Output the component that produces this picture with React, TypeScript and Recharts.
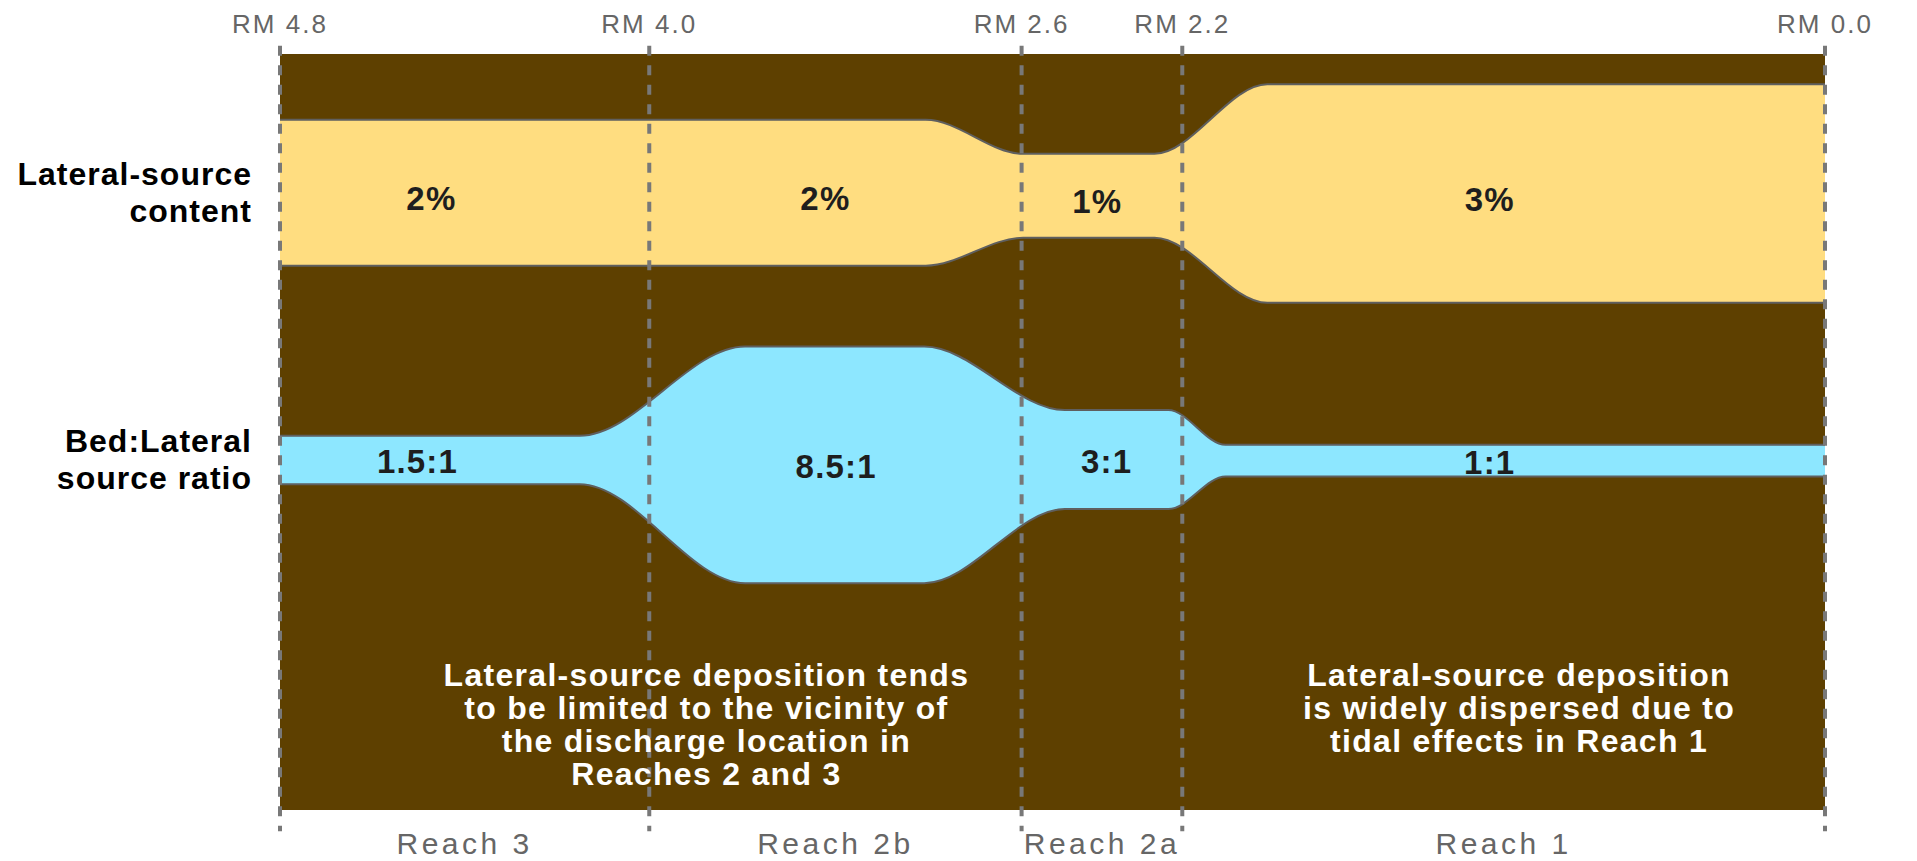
/**
 * LateralSourceChart
 *
 * Band diagram of lateral-source content and bed:lateral ratio by reach.
 * Bands are range areas on a hidden 0-100 scale.
 */

import React from 'react';
import {
    ComposedChart,
    Area,
    Scatter,
    XAxis,
    YAxis,
    CartesianGrid,
    ReferenceLine,
} from 'recharts';

// River mile markers and where they sit along the x scale
const riverMiles = ['RM 4.8', 'RM 4.0', 'RM 2.6', 'RM 2.2', 'RM 0.0'];
const reachEdges = [0, 23.9, 48.0, 58.4, 100];
const reaches = ['Reach 3', 'Reach 2b', 'Reach 2a', 'Reach 1'];

// Lateral-source content band (top / bottom edge per reach)
const contentLabels = ['2%', '2%', '1%', '3%'];
const contentTop = [91.3, 91.3, 86.8, 96.0];
const contentBottom = [72.0, 72.0, 75.7, 67.1];
const contentShifts = [null, [41.8, 48.1], [56.6, 63.9]];

// Bed:Lateral source ratio band
const ratioLabels = ['1.5:1', '8.5:1', '3:1', '1:1'];
const ratioTop = [49.5, 61.3, 52.9, 48.3];
const ratioBottom = [43.1, 30.0, 39.8, 44.1];
const ratioShifts = [[19.4, 30.1], [41.7, 50.8], [57.5, 61.2]];

const bandTitles = [
    ['Lateral-source', 'content'],
    ['Bed:Lateral', 'source ratio'],
];

const notes = [
    ['Lateral-source deposition tends', 'to be limited to the vicinity of', 'the discharge location in', 'Reaches 2 and 3'],
    ['Lateral-source deposition', 'is widely dispersed due to', 'tidal effects in Reach 1'],
];

// layout
const BROWN = '#5E4000';
const YELLOW = '#FFDD80';
const BLUE = '#8DE7FF';
const EDGE = '#5f5f5f';
const DASH = '#787878';
const GREY_TEXT = '#666';
const FONT = '"Liberation Sans", Arial, sans-serif';
const CONTENT_LABEL_X = [9.8, 35.3, 52.9, 78.3];
const RATIO_LABEL_X = [8.9, 36.0, 53.5, 78.3];
const NOTE_X = [27.6, 80.2];
const NOTE_Y = 17.9;
const LINE_TOP = 101.1;
const LINE_BOTTOM = -2.8;

const buildBand = (top: number[], bottom: number[], shifts: (number[] | null)[]) => {
    const pts = [{ x: 0, band: [bottom[0], top[0]] }];
    shifts.forEach((s, i) => {
        if (!s) return;
        pts.push({ x: s[0], band: [bottom[i], top[i]] });
        pts.push({ x: s[1], band: [bottom[i + 1], top[i + 1]] });
    });
    const last = top.length - 1;
    pts.push({ x: 100, band: [bottom[last], top[last]] });
    return pts;
};

const contentData = buildBand(contentTop, contentBottom, contentShifts);
const ratioData = buildBand(ratioTop, ratioBottom, ratioShifts);

const bandCenters = [
    (contentTop[0] + contentBottom[0]) / 2,
    (ratioTop[0] + ratioBottom[0]) / 2,
];

const reachMids = reaches.map((_, i) => (reachEdges[i] + reachEdges[i + 1]) / 2);

const contentLabelData = contentLabels.map((t, i) => ({
    x: CONTENT_LABEL_X[i],
    y: (contentTop[i] + contentBottom[i]) / 2,
    text: t,
}));
const ratioLabelData = ratioLabels.map((t, i) => ({
    x: RATIO_LABEL_X[i],
    y: (ratioTop[i] + ratioBottom[i]) / 2,
    text: t,
}));
const noteData = notes.map((lines, i) => ({ x: NOTE_X[i], y: NOTE_Y, lines }));

const RmTick = (props: any) => {
    const { x, y, payload } = props;
    return (
        <text x={x} y={y} textAnchor="middle" fontFamily={FONT} fontSize={26} letterSpacing={2} fill={GREY_TEXT}>
            {riverMiles[reachEdges.indexOf(payload.value)]}
        </text>
    );
};

const ReachTick = (props: any) => {
    const { x, y, payload } = props;
    return (
        <text x={x} y={y} textAnchor="middle" fontFamily={FONT} fontSize={30} letterSpacing={3.5} fill={GREY_TEXT}>
            {reaches[reachMids.indexOf(payload.value)]}
        </text>
    );
};

const BandTick = (props: any) => {
    const { x, y, payload } = props;
    const lines = bandTitles[bandCenters.indexOf(payload.value)] || [];
    return (
        <text x={x} y={y} textAnchor="end" fontFamily={FONT} fontWeight="bold" fontSize={32} letterSpacing={1} fill="#000">
            {lines.map((l, i) => (
                <tspan key={i} x={x} dy={i === 0 ? -7.5 : 37}>{l}</tspan>
            ))}
        </text>
    );
};

const makeValueLabel = (lift: number) => (props: any) => {
    const { cx, cy, payload } = props;
    return (
        <text x={cx} y={cy + 17.5 - lift} textAnchor="middle" fontFamily={FONT} fontWeight="bold" fontSize={33} letterSpacing={1.2} fill="#1e1e1e">
            {payload.text}
        </text>
    );
};
const ContentLabel = makeValueLabel(0);
const RatioLabel = makeValueLabel(4);

const NoteLabel = (props: any) => {
    const { cx, cy, payload } = props;
    return (
        <text x={cx} y={cy + 11} textAnchor="middle" fontFamily={FONT} fontWeight="bold" fontSize={32} letterSpacing={1.3} fill="#fff">
            {payload.lines.map((l: string, i: number) => (
                <tspan key={i} x={cx} dy={i === 0 ? 0 : 33}>{l}</tspan>
            ))}
        </text>
    );
};

export default function App() {
    return (
        <div style={{ position: 'absolute', left: 0, top: 0, width: 1917, height: 861, background: '#fff' }}>
            <ComposedChart width={1917} height={861} margin={{ top: 0, right: 92, bottom: 0, left: 0 }}>
                <CartesianGrid fill={BROWN} fillOpacity={1} horizontal={false} vertical={false} stroke="none" />
                <XAxis
                    type="number"
                    dataKey="x"
                    orientation="top"
                    domain={[0, 100]}
                    allowDataOverflow
                    ticks={reachEdges}
                    interval={0}
                    height={54}
                    axisLine={false}
                    tickLine={false}
                    tickSize={0}
                    tickMargin={21}
                    tick={<RmTick />}
                />
                <XAxis
                    xAxisId="reach"
                    type="number"
                    dataKey="x"
                    orientation="bottom"
                    domain={[0, 100]}
                    allowDataOverflow
                    ticks={reachMids}
                    interval={0}
                    height={51}
                    axisLine={false}
                    tickLine={false}
                    tickSize={0}
                    tickMargin={44}
                    tick={<ReachTick />}
                />
                <YAxis
                    type="number"
                    domain={[0, 100]}
                    allowDataOverflow
                    ticks={bandCenters}
                    interval={0}
                    width={280}
                    axisLine={false}
                    tickLine={false}
                    tickSize={0}
                    tickMargin={28}
                    tick={<BandTick />}
                />
                <Area
                    data={contentData}
                    dataKey="band"
                    type="monotone"
                    fill={YELLOW}
                    fillOpacity={1}
                    stroke={EDGE}
                    strokeWidth={2}
                    dot={false}
                    activeDot={false}
                    isAnimationActive={false}
                />
                <Area
                    data={ratioData}
                    dataKey="band"
                    type="monotone"
                    fill={BLUE}
                    fillOpacity={1}
                    stroke={EDGE}
                    strokeWidth={2}
                    dot={false}
                    activeDot={false}
                    isAnimationActive={false}
                />
                {reachEdges.map((e) => (
                    <ReferenceLine
                        key={e}
                        segment={[{ x: e, y: LINE_TOP }, { x: e, y: LINE_BOTTOM }]}
                        stroke={DASH}
                        strokeWidth={4}
                        strokeDasharray="10 9.5"
                        ifOverflow="visible"
                    />
                ))}
                <Scatter data={contentLabelData} dataKey="y" shape={<ContentLabel />} isAnimationActive={false} />
                <Scatter data={ratioLabelData} dataKey="y" shape={<RatioLabel />} isAnimationActive={false} />
                <Scatter data={noteData} dataKey="y" shape={<NoteLabel />} isAnimationActive={false} />
            </ComposedChart>
        </div>
    );
}
